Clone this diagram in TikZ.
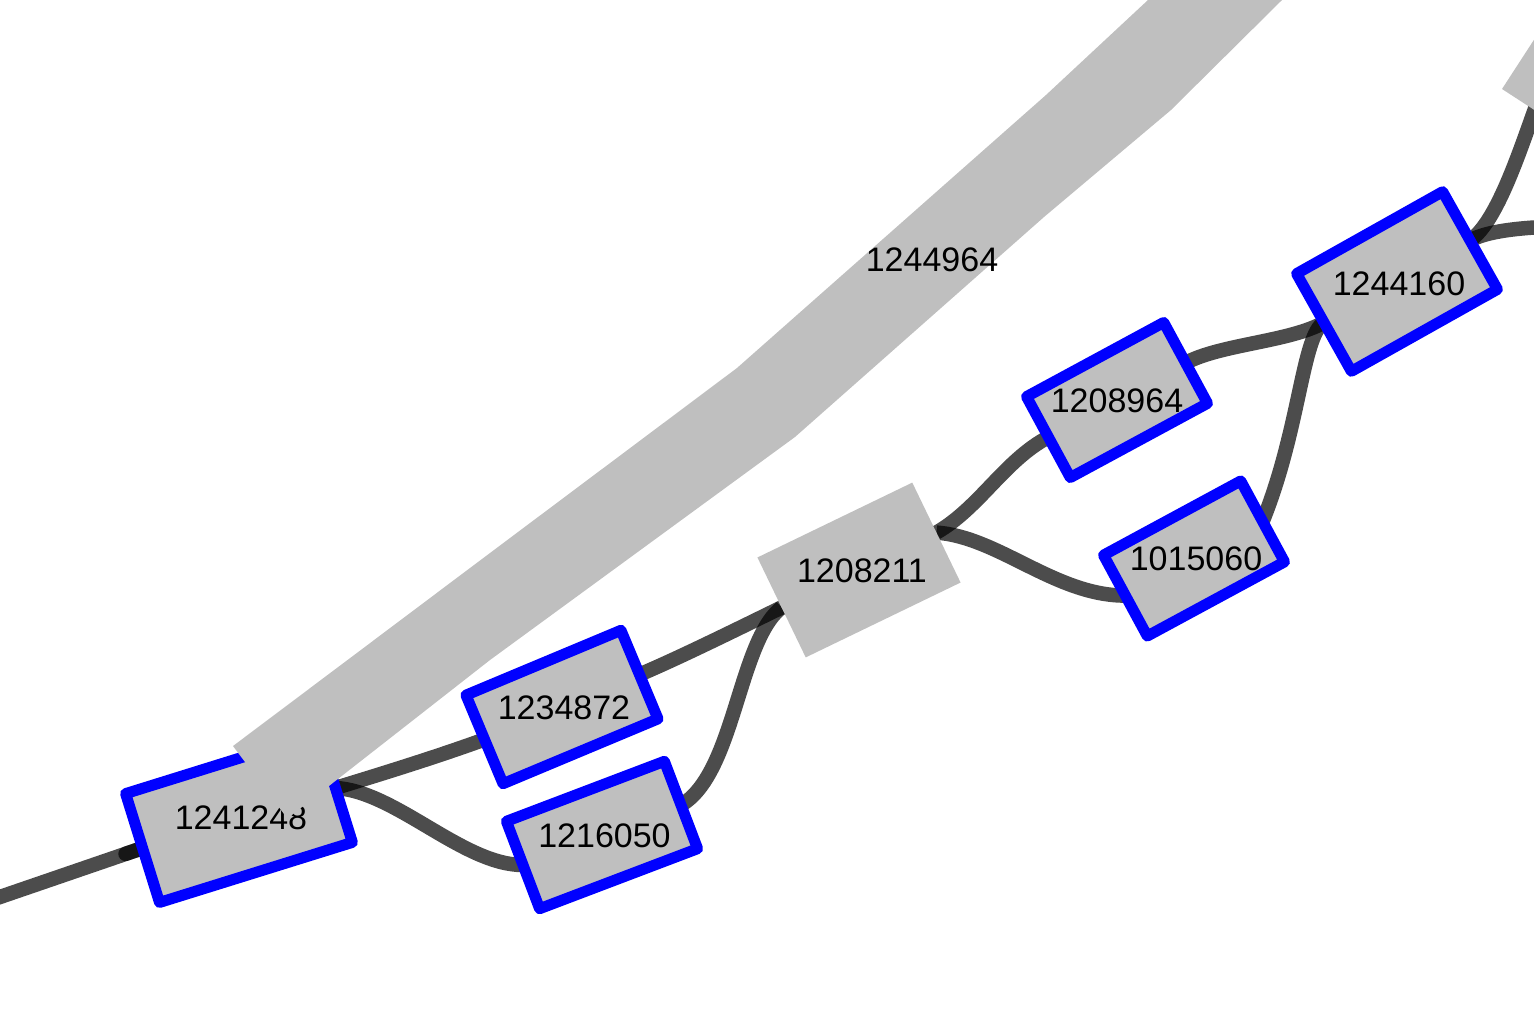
\documentclass[tikz,border=0pt]{standalone}
\usepackage{fontspec}
\setmainfont{Liberation Sans}
\usetikzlibrary{backgrounds}
\definecolor{nodegray}{RGB}{191,191,191}
\definecolor{nodeblue}{RGB}{0,0,255}
\tikzset{
  bluebox/.style={rectangle, draw=nodeblue, line width=11pt, fill=nodegray, inner sep=0pt, outer sep=0pt, line join=round},
  plainbox/.style={rectangle, fill=nodegray, draw=none, inner sep=0pt, outer sep=0pt},
  lab/.style={font=\fontsize{34}{34}\selectfont, text=black, inner sep=0pt},
  edge/.style={draw=black, draw opacity=0.7, line width=14.5pt},
}
\begin{document}
\begin{tikzpicture}[x=1pt,y=-1pt]
\useasboundingbox (0,0) rectangle (1534,1036);
\clip (0,0) rectangle (1534,1036);

% nodes
\node[bluebox, rotate=17.3, minimum width=202pt, minimum height=114pt] (n1241248) at (239,818) {};
\node[lab] (l1241248) at (241,818) {1241248};

\node[bluebox, rotate=22.7, minimum width=168pt, minimum height=96pt] (n1234872) at (562,707) {};
\node[lab] (l1234872) at (564,707.5) {1234872};

\node[bluebox, rotate=20.8, minimum width=169pt, minimum height=93.5pt] (n1216050) at (602,835) {};
\node[lab] (l1216050) at (604.5,836) {1216050};

\node[plainbox, rotate=25.8, minimum width=172pt, minimum height=111pt] (n1208211) at (859,570) {};
\node[lab] (l1208211) at (862,571) {1208211};

\node[bluebox, rotate=28.4, minimum width=156pt, minimum height=92pt] (n1208964) at (1117,400) {};
\node[lab] (l1208964) at (1117,401) {1208964};

\node[bluebox, rotate=28.4, minimum width=156pt, minimum height=92pt] (n1015060) at (1194,558.5) {};
\node[lab] (l1015060) at (1196,558.5) {1015060};

\node[bluebox, rotate=29.3, minimum width=167.5pt, minimum height=112pt] (n1244160) at (1397,281.5) {};
\node[lab] (l1244160) at (1399,283.5) {1244160};

\node[plainbox, rotate=-33, anchor=south west, minimum width=120pt, minimum height=130pt] (ngray) at (1502,89) {};

\coordinate (e1s) at (-10,900.4);
\coordinate (e10e) at (1600,226);
\coordinate (e11e) at (1555,60);

% connectors
\begin{pgfonlayer}{background}
\clip (0,0) rectangle (1534,1036);
\draw[edge] (e1s) -- (n1241248.west);
\draw[edge, line cap=round] (n1241248.west) -- ++(198.9:18pt);
\draw[edge] (n1241248.east) .. controls +(17:50pt) and +(200:50pt) .. (n1234872.west);
\draw[edge] (n1241248.east) .. controls +(-3:60pt) and +(180:60pt) .. (n1216050.west);
\draw[edge] (n1234872.east) .. controls +(23:45pt) and +(206:45pt) .. (n1208211.west);
\draw[edge] (n1216050.east) .. controls +(30:62pt) and +(218:55pt) .. (n1208211.west);
\draw[edge] (n1208211.east) .. controls +(30:50pt) and +(208:50pt) .. (n1208964.west);
\draw[edge] (n1208211.east) .. controls +(-4:62pt) and +(180:70pt) .. (n1015060.west);
\draw[edge] (n1208964.east) .. controls +(28:40pt) and +(209:40pt) .. (n1244160.west);
\draw[edge] (n1015060.east) .. controls +(68:100pt) and +(210:25pt) .. (n1244160.west);
\draw[edge] (n1244160.east) .. controls +(29:30pt) and +(180:40pt) .. (e10e);
\draw[edge] (n1244160.east) .. controls +(35:45pt) and +(240:40pt) .. (e11e);
\end{pgfonlayer}

% big node 1244964
\fill[nodegray] (233,746) -- (490,553) -- (737,368) -- (1046,95) -- (1148,0) -- (1200,-50)
  -- (1330,-50) -- (1282,0) -- (1171,110) -- (1044,217) -- (795,437) -- (490,660)
  -- (343,775) -- (287.4,818.5) -- cycle;
\node[lab] (l1244964) at (932,260) {1244964};
\end{tikzpicture}
\end{document}
